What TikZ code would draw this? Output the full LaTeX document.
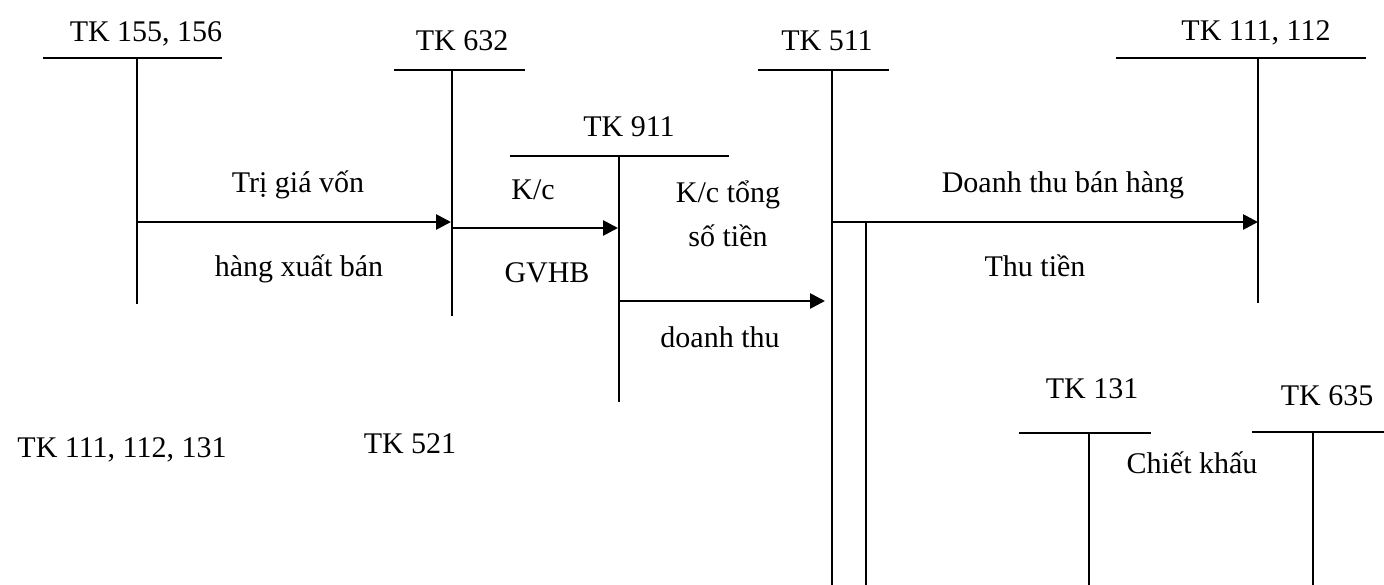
\documentclass[tikz,border=0pt]{standalone}
\usepackage{fontspec}
\setmainfont{Liberation Serif}
\usetikzlibrary{arrows.meta}
\begin{document}
\begin{tikzpicture}[x=1pt,y=-1pt,
  lbl/.style={font=\fontsize{30}{36}\selectfont, anchor=base, inner sep=0pt},
  acc/.style={line width=1.8pt},
  flow/.style={line width=2.7pt, -{Triangle[length=15pt,width=15pt]}}]
\useasboundingbox (0,0) rectangle (1384,585);
% titles
\node[lbl] (t155) at (146,42) {TK 155, 156};
\node[lbl] (t632) at (462,51) {TK 632};
\node[lbl] (t911) at (629,137) {TK 911};
\node[lbl] (t511) at (827,51) {TK 511};
\node[lbl] (t111) at (1256,41) {TK 111, 112};
\node[lbl] (t131) at (1092,398) {TK 131};
\node[lbl] (t635) at (1327,405) {TK 635};
\node[lbl] (t111b) at (122,457) {TK 111, 112, 131};
\node[lbl] (t521) at (410,453) {TK 521};
% T-account coordinates
\coordinate (h155a) at (43,58);  \coordinate (h155b) at (222,58);
\coordinate (v155a) at (137,58); \coordinate (v155b) at (137,304);
\coordinate (h632a) at (394,70); \coordinate (h632b) at (525,70);
\coordinate (v632a) at (452,70); \coordinate (v632b) at (452,316);
\coordinate (h911a) at (510,156); \coordinate (h911b) at (729,156);
\coordinate (v911a) at (619,156); \coordinate (v911b) at (619,402);
\coordinate (h511a) at (758,70); \coordinate (h511b) at (889,70);
\coordinate (v511a) at (832,70); \coordinate (v511b) at (832,585);
\coordinate (v511c) at (866,222); \coordinate (v511d) at (866,585);
\coordinate (h111a) at (1116,58); \coordinate (h111b) at (1366,58);
\coordinate (v111a) at (1258,58); \coordinate (v111b) at (1258,303);
\coordinate (h131a) at (1019,433); \coordinate (h131b) at (1151,433);
\coordinate (v131a) at (1089,433); \coordinate (v131b) at (1089,585);
\coordinate (h635a) at (1252,432); \coordinate (h635b) at (1384,432);
\coordinate (v635a) at (1313,432); \coordinate (v635b) at (1313,585);
\foreach \a in {155,632,911,511,111,131,635}{
  \draw[acc] (h\a a) -- (h\a b);
  \draw[acc] (v\a a) -- (v\a b);
}
\draw[acc] (v511c) -- (v511d);
% flows
\coordinate (f1a) at (137,222); \coordinate (f1b) at (451,222);
\coordinate (f2a) at (452,228); \coordinate (f2b) at (618,228);
\coordinate (f3a) at (619,301); \coordinate (f3b) at (825,301);
\coordinate (f4a) at (832,222); \coordinate (f4b) at (1258,222);
\draw[flow] (f1a) -- (f1b);
\draw[flow] (f2a) -- (f2b);
\draw[flow] (f3a) -- (f3b);
\draw[flow] (f4a) -- (f4b);
% labels
\node[lbl] (l1) at (298,193) {Trị giá vốn};
\node[lbl] (l2) at (299,277) {hàng xuất bán};
\node[lbl] (l3) at (533,200) {K/c};
\node[lbl] (l4) at (547,283) {GVHB};
\node[lbl] (l5) at (728,203) {K/c tổng};
\node[lbl] (l6) at (728,247) {số tiền};
\node[lbl] (l7) at (720,347) {doanh thu};
\node[lbl] (l8) at (1063,193) {Doanh thu bán hàng};
\node[lbl] (l9) at (1035,277) {Thu tiền};
\node[lbl] (l10) at (1192,473) {Chiết khấu};
\end{tikzpicture}
\end{document}
